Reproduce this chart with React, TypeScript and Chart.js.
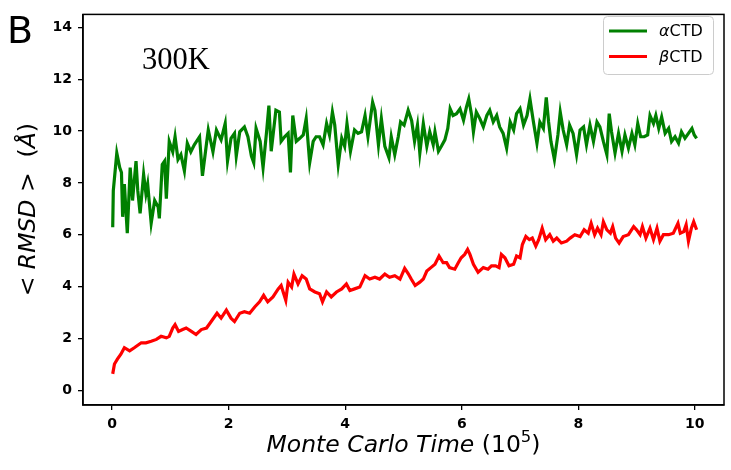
import React, { useEffect, useRef } from "react";
import { Chart, registerables } from "chart.js";

Chart.register(...registerables);

// ---- data (Monte Carlo time in units of 10^5 steps, RMSD in Å) ----
const alphaTime = [
  0.01, 0.02, 0.08, 0.13, 0.16, 0.18, 0.21, 0.26, 0.31, 0.35, 0.41, 0.44, 0.48, 0.54, 0.58, 0.61, 0.67, 0.73, 0.79, 0.81,
  0.86, 0.9, 0.93, 0.98, 1.04, 1.08, 1.13, 1.18, 1.24, 1.29, 1.35, 1.41, 1.5, 1.55, 1.62, 1.65, 1.73, 1.79, 1.87, 1.94,
  1.98, 2.04, 2.1, 2.13, 2.19, 2.27, 2.33, 2.39, 2.43, 2.47, 2.54, 2.59, 2.65, 2.69, 2.73, 2.81, 2.87, 2.9, 2.96, 3.02,
  3.06, 3.1, 3.16, 3.22, 3.28, 3.33, 3.39, 3.45, 3.5, 3.56, 3.62, 3.68, 3.73, 3.78, 3.82, 3.88, 3.94, 3.99, 4.03, 4.09,
  4.16, 4.22, 4.28, 4.34, 4.39, 4.47, 4.51, 4.57, 4.62, 4.68, 4.75, 4.79, 4.85, 4.91, 4.95, 5.01, 5.08, 5.14, 5.19, 5.24,
  5.28, 5.34, 5.4, 5.45, 5.51, 5.54, 5.6, 5.65, 5.71, 5.76, 5.8, 5.85, 5.91, 5.97, 6.03, 6.08, 6.12, 6.17, 6.2, 6.25,
  6.31, 6.37, 6.43, 6.48, 6.54, 6.6, 6.65, 6.71, 6.77, 6.83, 6.89, 6.94, 7.0, 7.06, 7.12, 7.17, 7.23, 7.29, 7.34, 7.4,
  7.45, 7.49, 7.53, 7.59, 7.65, 7.69, 7.74, 7.8, 7.85, 7.91, 7.97, 8.03, 8.09, 8.14, 8.2, 8.26, 8.32, 8.37, 8.43, 8.49,
  8.53, 8.57, 8.63, 8.69, 8.75, 8.8, 8.86, 8.92, 8.97, 9.02, 9.07, 9.13, 9.19, 9.23, 9.29, 9.33, 9.38, 9.43, 9.49, 9.55,
  9.6, 9.66, 9.72, 9.77, 9.83, 9.89, 9.95, 9.99, 10.03,
];
const alphaRMSD = [
  6.29, 7.7, 9.15, 8.59, 8.4, 6.69, 7.95, 6.06, 8.59, 7.32, 8.84, 7.7, 6.82, 8.33, 7.58, 7.95, 6.44, 7.32, 7.07, 6.63,
  8.71, 8.84, 7.39, 9.6, 9.2, 9.78, 8.9, 9.09, 8.46, 9.53, 9.2, 9.47, 9.78, 8.27, 9.53, 10.04, 9.2, 10.04, 9.66, 10.29,
  8.84, 9.72, 9.91, 9.03, 9.97, 10.16, 9.78, 9.03, 8.78, 10.1, 9.6, 8.59, 9.97, 10.98, 9.22, 10.8, 10.73, 9.6, 9.78, 9.91,
  8.4, 10.6, 9.6, 9.72, 9.85, 10.48, 8.78, 9.6, 9.78, 9.78, 9.47, 10.29, 9.85, 10.73, 10.23, 8.71, 9.72, 9.41, 10.29, 9.22,
  10.04, 9.91, 9.97, 10.6, 9.78, 11.11, 10.8, 9.47, 10.48, 9.41, 8.97, 9.78, 9.09, 9.78, 10.35, 10.23, 10.8, 10.4, 9.6, 10.23,
  9.15, 10.29, 9.41, 9.97, 9.47, 9.97, 9.22, 9.41, 9.66, 10.1, 10.86, 10.6, 10.67, 10.86, 10.42, 10.92, 11.24, 10.6, 9.97, 10.73,
  10.48, 10.16, 10.6, 10.8, 10.35, 10.6, 10.16, 9.91, 9.34, 10.35, 10.04, 10.67, 10.86, 10.23, 10.6, 11.24, 10.35, 9.53, 10.35, 10.1,
  11.3, 10.35, 9.6, 8.9, 9.85, 10.73, 10.04, 9.47, 10.23, 9.91, 9.09, 10.04, 10.16, 9.47, 10.23, 9.6, 10.35, 10.16, 9.6, 9.09,
  10.67, 9.97, 9.15, 9.91, 9.22, 9.85, 9.34, 9.91, 9.47, 10.29, 9.78, 9.78, 9.85, 10.6, 10.29, 10.6, 10.1, 10.54, 9.91, 10.1,
  9.6, 9.78, 9.53, 9.97, 9.72, 9.91, 10.1, 9.85, 9.72,
];

const betaTime = [
  0.01, 0.04, 0.09, 0.15, 0.21, 0.3, 0.38, 0.5, 0.58, 0.67, 0.76, 0.84, 0.93, 0.98, 1.04, 1.08, 1.14, 1.21, 1.27, 1.36,
  1.44, 1.53, 1.62, 1.7, 1.8, 1.87, 1.96, 2.04, 2.1, 2.19, 2.27, 2.36, 2.45, 2.53, 2.6, 2.67, 2.76, 2.85, 2.9, 2.98,
  3.02, 3.08, 3.12, 3.19, 3.26, 3.33, 3.39, 3.48, 3.56, 3.61, 3.68, 3.76, 3.85, 3.94, 4.02, 4.08, 4.16, 4.25, 4.34, 4.42,
  4.51, 4.59, 4.68, 4.76, 4.85, 4.94, 5.02, 5.08, 5.13, 5.2, 5.28, 5.34, 5.4, 5.47, 5.54, 5.61, 5.68, 5.74, 5.79, 5.88,
  5.94, 5.99, 6.05, 6.1, 6.14, 6.2, 6.28, 6.37, 6.45, 6.51, 6.58, 6.64, 6.68, 6.74, 6.81, 6.89, 6.94, 7.0, 7.04, 7.1,
  7.16, 7.21, 7.27, 7.32, 7.38, 7.44, 7.51, 7.57, 7.63, 7.71, 7.8, 7.86, 7.94, 8.03, 8.1, 8.17, 8.22, 8.28, 8.33, 8.39,
  8.43, 8.49, 8.55, 8.59, 8.64, 8.7, 8.77, 8.86, 8.95, 9.0, 9.06, 9.1, 9.16, 9.23, 9.29, 9.35, 9.4, 9.46, 9.55, 9.63,
  9.71, 9.75, 9.81, 9.85, 9.89, 9.94, 9.98, 10.03,
];
const betaRMSD = [
  0.63, 1.01, 1.2, 1.39, 1.64, 1.52, 1.64, 1.83, 1.83, 1.89, 1.96, 2.08, 2.02, 2.08, 2.4, 2.53, 2.27, 2.34, 2.4, 2.27,
  2.15, 2.34, 2.4, 2.65, 2.97, 2.78, 3.09, 2.78, 2.65, 2.97, 3.03, 2.97, 3.22, 3.41, 3.66, 3.41, 3.6, 3.91, 4.04, 3.47,
  4.17, 3.98, 4.48, 4.1, 4.42, 4.29, 3.91, 3.79, 3.72, 3.41, 3.79, 3.6, 3.79, 3.91, 4.1, 3.85, 3.91, 3.98, 4.42, 4.29,
  4.36, 4.29, 4.48, 4.36, 4.42, 4.29, 4.7, 4.5, 4.3, 4.04, 4.17, 4.29, 4.6, 4.73, 4.86, 5.18, 4.92, 4.92, 4.73, 4.67,
  4.92, 5.11, 5.24, 5.43, 5.24, 4.86, 4.55, 4.73, 4.67, 4.8, 4.8, 4.73, 5.24, 5.11, 4.8, 4.86, 5.18, 5.11, 5.62, 5.93,
  5.81, 5.87, 5.56, 5.81, 6.25, 5.81, 6.0, 5.75, 5.87, 5.68, 5.75, 5.87, 6.0, 5.93, 6.19, 6.06, 6.44, 6.0, 6.25, 6.0,
  6.5, 6.19, 6.06, 6.31, 5.87, 5.68, 5.93, 6.0, 6.31, 6.19, 6.0, 6.31, 5.87, 6.25, 5.81, 6.25, 5.75, 6.0, 6.0, 6.06,
  6.44, 6.06, 6.12, 6.38, 5.75, 6.25, 6.5, 6.19,
];

// legend entries: [greek prefix, suffix]
const seriesLabels = ["αCTD", "βCTD"];
const xTicks = [0, 2, 4, 6, 8, 10];
const yTicks = [0, 2, 4, 6, 8, 10, 12, 14];
const panelLetter = "B";
const temperatureNote = "300K";

const GREEN = "#008000";
const RED = "#ff0000";
const FONT = "'DejaVu Sans', sans-serif";
const TITLE_SIZE = 23.5;

type Run = { text: string; font: string; dy?: number };

function drawRuns(ctx: CanvasRenderingContext2D, runs: Run[], cx: number, cy: number, align: "center" | "left" = "center") {
  let total = 0;
  for (const r of runs) {
    ctx.font = r.font;
    total += ctx.measureText(r.text).width;
  }
  let x = align === "center" ? cx - total / 2 : cx;
  ctx.textAlign = "left";
  for (const r of runs) {
    ctx.font = r.font;
    ctx.fillText(r.text, x, cy + (r.dy || 0));
    x += ctx.measureText(r.text).width;
  }
}

const overlayPlugin = {
  id: "overlay",
  afterDraw(chart: any) {
    const { ctx, chartArea: a } = chart;
    ctx.save();
    // frame
    ctx.strokeStyle = "#000";
    ctx.lineWidth = 1.5;
    ctx.strokeRect(a.left, a.top, a.right - a.left, a.bottom - a.top);

    ctx.fillStyle = "#000";
    ctx.textBaseline = "alphabetic";
    // panel letter
    ctx.font = `38px ${FONT}`;
    ctx.textAlign = "left";
    ctx.fillText(panelLetter, 7, 43);
    // temperature
    ctx.font = "30.5px 'Liberation Serif', serif";
    ctx.fillText(temperatureNote, 142, 69);

    // x title
    ctx.textBaseline = "middle";
    drawRuns(
      ctx,
      [
        { text: "Monte Carlo Time ", font: `italic ${TITLE_SIZE}px ${FONT}` },
        { text: "(10", font: `${TITLE_SIZE}px ${FONT}` },
        { text: "5", font: `${TITLE_SIZE * 0.7}px ${FONT}`, dy: -8 },
        { text: ")", font: `${TITLE_SIZE}px ${FONT}` },
      ],
      (a.left + a.right) / 2,
      446
    );

    // y title
    ctx.save();
    ctx.translate(29, (a.top + a.bottom) / 2);
    ctx.rotate(-Math.PI / 2);
    drawRuns(
      ctx,
      [
        { text: "< ", font: `${TITLE_SIZE}px ${FONT}` },
        { text: "RMSD", font: `italic ${TITLE_SIZE}px ${FONT}` },
        { text: " >  (", font: `${TITLE_SIZE}px ${FONT}` },
        { text: "Å", font: `italic ${TITLE_SIZE}px ${FONT}` },
        { text: ")", font: `${TITLE_SIZE}px ${FONT}` },
      ],
      0,
      0
    );
    ctx.restore();

    // legend
    const bx = 603.5, by = 16.5, bw = 110, bh = 58;
    ctx.beginPath();
    (ctx as any).roundRect(bx, by, bw, bh, 4);
    ctx.fillStyle = "rgba(255,255,255,0.9)";
    ctx.fill();
    ctx.strokeStyle = "#cccccc";
    ctx.lineWidth = 1;
    ctx.stroke();
    chart.data.datasets.forEach((ds: any, i: number) => {
      const y = 31 + i * 25.5;
      ctx.beginPath();
      ctx.moveTo(609, y);
      ctx.lineTo(647, y);
      ctx.strokeStyle = ds.borderColor;
      ctx.lineWidth = 3;
      ctx.stroke();
      ctx.fillStyle = "#000";
      ctx.textBaseline = "middle";
      const label: string = ds.label;
      drawRuns(
        ctx,
        [
          { text: label.slice(0, 1), font: `italic 16px ${FONT}` },
          { text: label.slice(1), font: `16px ${FONT}` },
        ],
        659,
        y + 1,
        "left"
      );
    });
    ctx.restore();
  },
};

export default function App() {
  const ref = useRef<HTMLCanvasElement | null>(null);
  useEffect(() => {
    document.body.style.margin = "0";
    const canvas = ref.current!;
    const toXY = (t: number[], v: number[]) => t.map((x, i) => ({ x, y: v[i] }));
    const chart = new Chart(canvas, {
      type: "line",
      data: {
        datasets: [
          {
            label: seriesLabels[0],
            data: toXY(alphaTime, alphaRMSD),
            borderColor: GREEN,
            backgroundColor: GREEN,
            borderWidth: 3.2,
            pointRadius: 0,
            tension: 0,
          },
          {
            label: seriesLabels[1],
            data: toXY(betaTime, betaRMSD),
            borderColor: RED,
            backgroundColor: RED,
            borderWidth: 3.2,
            pointRadius: 0,
            tension: 0,
          },
        ],
      },
      options: {
        responsive: false,
        animation: false,
        events: [],
        layout: { padding: { top: 7, right: 7, left: 0, bottom: 0 } },
        plugins: { legend: { display: false }, tooltip: { enabled: false } },
        scales: {
          x: {
            type: "linear",
            min: -0.5,
            max: 10.5,
            afterFit: (s: any) => {
              s.height = 65;
            },
            afterBuildTicks: (s: any) => {
              s.ticks = xTicks.map((v) => ({ value: v }));
            },
            ticks: {
              color: "#000",
              font: { family: FONT, size: 14, weight: "bold" },
              padding: 6,
              maxRotation: 0,
              callback: (v: any) => String(v),
            },
            grid: { drawOnChartArea: false, drawTicks: true, tickLength: 5, color: "#000", lineWidth: 1.3 },
            border: { display: true, color: "#000", width: 1.5 },
          },
          y: {
            type: "linear",
            min: -0.57,
            max: 14.5,
            afterFit: (s: any) => {
              s.width = 83;
            },
            afterBuildTicks: (s: any) => {
              s.ticks = yTicks.map((v) => ({ value: v }));
            },
            ticks: {
              color: "#000",
              font: { family: FONT, size: 14, weight: "bold" },
              padding: 6,
              callback: (v: any) => String(v),
            },
            grid: { drawOnChartArea: false, drawTicks: true, tickLength: 5, color: "#000", lineWidth: 1.3 },
            border: { display: true, color: "#000", width: 1.5 },
          },
        },
      },
      plugins: [overlayPlugin],
    });
    return () => chart.destroy();
  }, []);
  return (
    <div style={{ position: "absolute", left: 0, top: 0, width: 731, height: 470, background: "#fff" }}>
      <canvas ref={ref} width={731} height={470} style={{ display: "block", width: 731, height: 470 }} />
    </div>
  );
}
